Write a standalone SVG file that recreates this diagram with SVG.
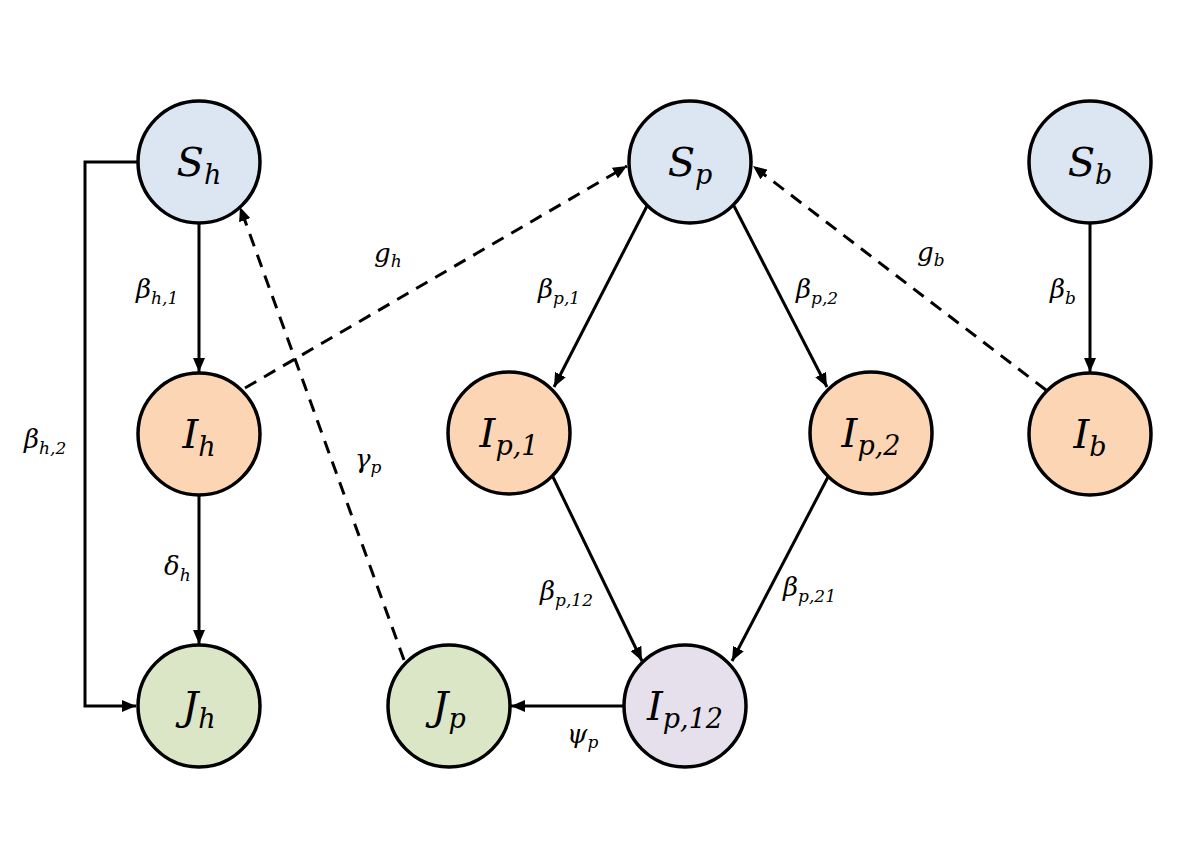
<svg xmlns="http://www.w3.org/2000/svg" width="1200" height="867" viewBox="0 0 1200 867">
<defs>
<marker id="ah" viewBox="0 0 14 12" refX="14" refY="6" markerWidth="14" markerHeight="12" markerUnits="userSpaceOnUse" orient="auto">
<path d="M0,0 L14,6 L0,12 Z" fill="#000"/>
</marker>
<style>
.n{stroke:#000;stroke-width:3.5}
.s{fill:#dce6f2}
.i{fill:#fcd5b5}
.j{fill:#dbe6c6}
.q{fill:#e6e0ec}
.e{fill:none;stroke:#000;stroke-width:3}
.d{fill:none;stroke:#000;stroke-width:3;stroke-dasharray:13 9}
.nl{font-size:40px}
.el{font-size:26px}
.sb{font-size:27px}
.es{font-size:17px}
</style>
</defs>
<rect width="1200" height="867" fill="#fff"/>
<g id="connectors">
<line class="e" x1="199" y1="223" x2="199" y2="372" marker-end="url(#ah)"/>
<polyline class="e" points="137,162 85,162 85,706 136,706" marker-end="url(#ah)"/>
<line class="e" x1="199" y1="495" x2="199" y2="644" marker-end="url(#ah)"/>
<line class="d" x1="245" y1="388" x2="627" y2="166" marker-end="url(#ah)"/>
<line class="d" x1="404" y1="660" x2="240" y2="207" marker-end="url(#ah)"/>
<line class="d" x1="1046" y1="390" x2="753" y2="166" marker-end="url(#ah)"/>
<line class="e" x1="647" y1="206" x2="554" y2="387" marker-end="url(#ah)"/>
<line class="e" x1="734" y1="206" x2="827" y2="387" marker-end="url(#ah)"/>
<line class="e" x1="553" y1="477" x2="642" y2="661" marker-end="url(#ah)"/>
<line class="e" x1="828" y1="477" x2="732" y2="661" marker-end="url(#ah)"/>
<line class="e" x1="623" y1="706" x2="511" y2="706" marker-end="url(#ah)"/>
<line class="e" x1="1090" y1="223" x2="1090" y2="372" marker-end="url(#ah)"/>
</g>
<g font-family="'DejaVu Serif',serif" font-style="italic" fill="#000">
<g id="edge-labels">
<text class="el" x="136" y="298">β<tspan class="es" dy="6">h,1</tspan></text>
<text class="el" x="24" y="448">β<tspan class="es" dy="6">h,2</tspan></text>
<text class="el" x="164" y="575">δ<tspan class="es" dy="6">h</tspan></text>
<text class="el" x="355" y="468">γ<tspan class="es" dy="5">p</tspan></text>
<text class="el" x="374" y="262">g<tspan class="es" dy="5">h</tspan></text>
<text class="el" x="538" y="298">β<tspan class="es" dy="6">p,1</tspan></text>
<text class="el" x="796" y="298">β<tspan class="es" dy="6">p,2</tspan></text>
<text class="el" x="917" y="261">g<tspan class="es" dy="5">b</tspan></text>
<text class="el" x="1050" y="298">β<tspan class="es" dy="6">b</tspan></text>
<text class="el" x="540" y="600">β<tspan class="es" dy="6">p,12</tspan></text>
<text class="el" x="783" y="596">β<tspan class="es" dy="6">p,21</tspan></text>
<text class="el" x="567" y="743">ψ<tspan class="es" dy="5">p</tspan></text>
</g>
<g id="Sh"><circle class="n s" cx="199" cy="162" r="61"/><text class="nl" x="199" y="176" text-anchor="middle">S<tspan class="sb" dy="8">h</tspan></text></g>
<g id="Ih"><circle class="n i" cx="199" cy="434" r="61"/><text class="nl" x="199" y="448" text-anchor="middle">I<tspan class="sb" dy="8">h</tspan></text></g>
<g id="Jh"><circle class="n j" cx="199" cy="706" r="61"/><text class="nl" x="199" y="720" text-anchor="middle">J<tspan class="sb" dy="8">h</tspan></text></g>
<g id="Jp"><circle class="n j" cx="449" cy="706" r="61"/><text class="nl" x="449" y="720" text-anchor="middle">J<tspan class="sb" dy="8">p</tspan></text></g>
<g id="Sp"><circle class="n s" cx="690" cy="162" r="61"/><text class="nl" x="690" y="176" text-anchor="middle">S<tspan class="sb" dy="8">p</tspan></text></g>
<g id="Ip1"><circle class="n i" cx="509" cy="433" r="61"/><text class="nl" x="509" y="447" text-anchor="middle">I<tspan class="sb" dy="8">p,1</tspan></text></g>
<g id="Ip2"><circle class="n i" cx="871" cy="433" r="61"/><text class="nl" x="871" y="447" text-anchor="middle">I<tspan class="sb" dy="8">p,2</tspan></text></g>
<g id="Ip12"><circle class="n q" cx="685" cy="706" r="61"/><text class="nl" x="685" y="720" text-anchor="middle">I<tspan class="sb" dy="8">p,12</tspan></text></g>
<g id="Sb"><circle class="n s" cx="1090" cy="162" r="61"/><text class="nl" x="1090" y="176" text-anchor="middle">S<tspan class="sb" dy="8">b</tspan></text></g>
<g id="Ib"><circle class="n i" cx="1090" cy="434" r="61"/><text class="nl" x="1090" y="448" text-anchor="middle">I<tspan class="sb" dy="8">b</tspan></text></g>
</g>
</svg>
